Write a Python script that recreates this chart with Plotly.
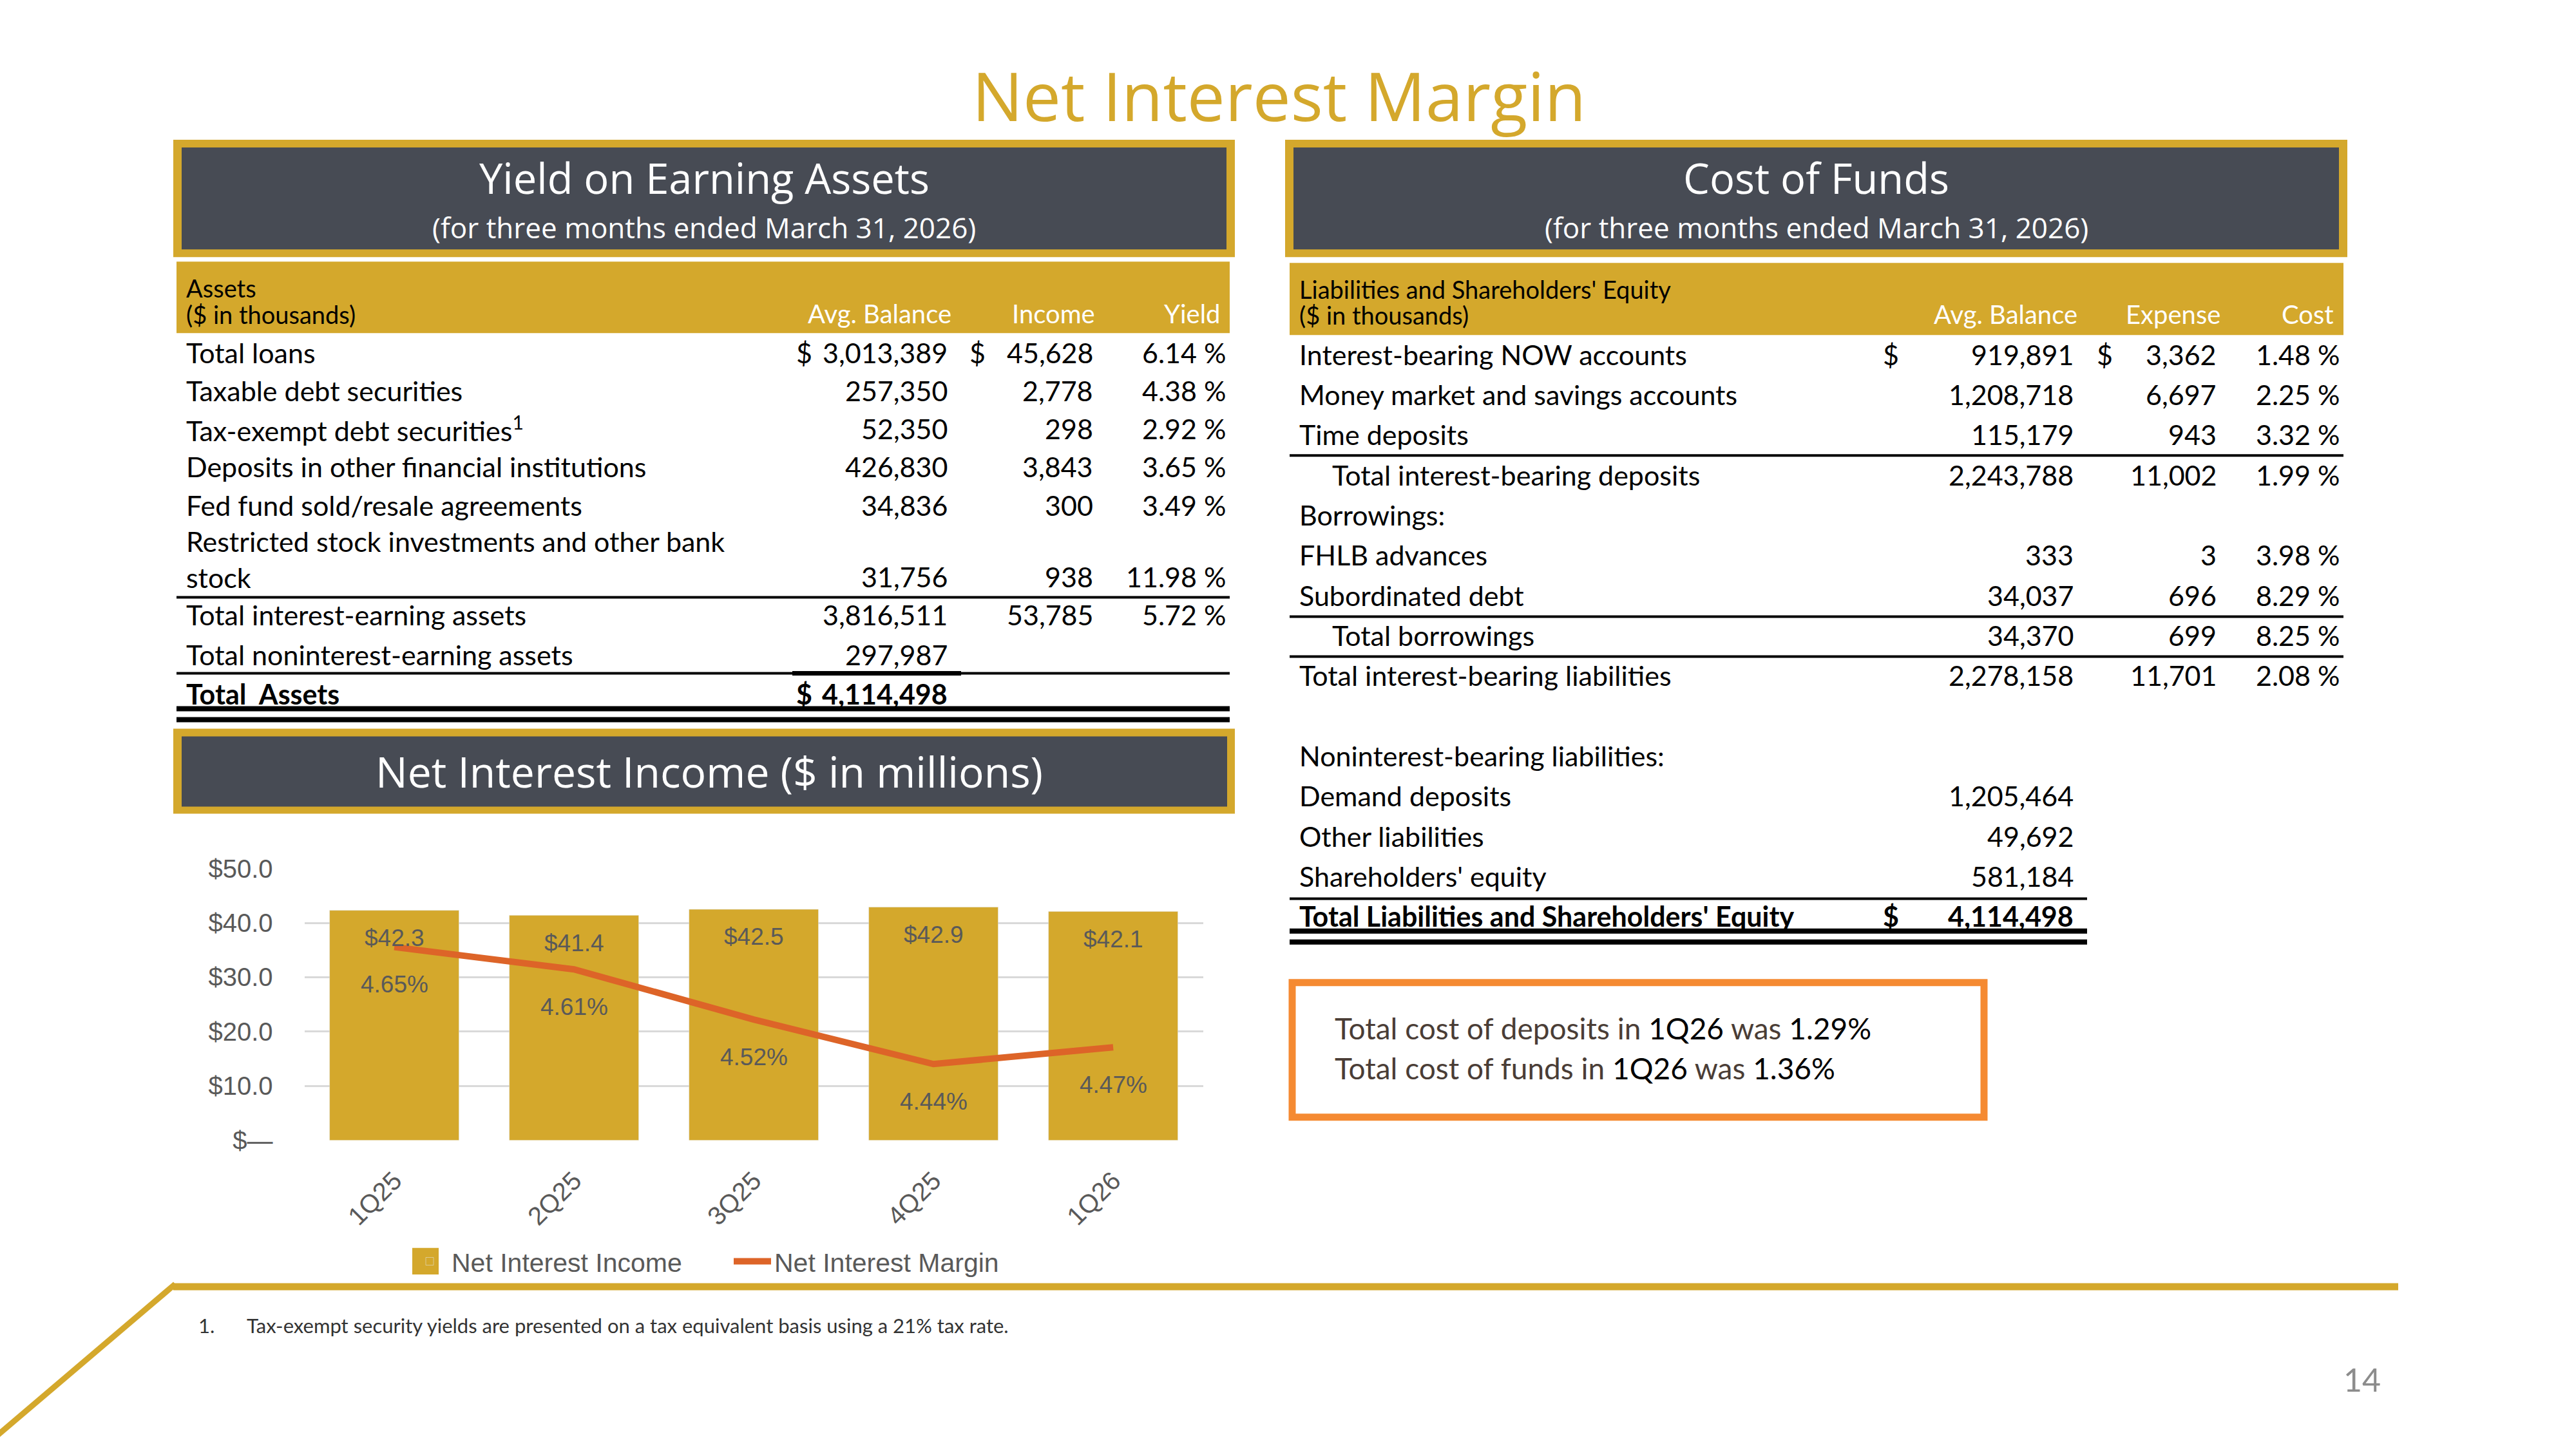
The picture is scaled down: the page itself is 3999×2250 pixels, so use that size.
import plotly.graph_objects as go

# ---- chart data ----
quarters = ["1Q25", "2Q25", "3Q25", "4Q25", "1Q26"]
net_interest_income = [42.3, 41.4, 42.5, 42.9, 42.1]
net_interest_margin = [4.65, 4.61, 4.52, 4.44, 4.47]
nii_tick_vals = [0, 10, 20, 30, 40, 50]
nii_tick_text = ["$—", "$10.0", "$20.0", "$30.0", "$40.0", "$50.0"]

# ---- yield on earning assets ----
asset_labels = ["Total loans", "Taxable debt securities", "Tax-exempt debt securities<sup>1</sup>",
                "Deposits in other financial institutions", "Fed fund sold/resale agreements",
                "Restricted stock investments and other bank<br>stock", "Total interest-earning assets",
                "Total noninterest-earning assets", "<b>Total  Assets</b>"]
asset_balance = [3013389, 257350, 52350, 426830, 34836, 31756, 3816511, 297987, 4114498]
asset_income = [45628, 2778, 298, 3843, 300, 938, 53785, None, None]
asset_yield = [6.14, 4.38, 2.92, 3.65, 3.49, 11.98, 5.72, None, None]
asset_dollar = [True, False, False, False, False, False, False, False, True]

# ---- cost of funds ----
liab_labels = ["Interest-bearing NOW accounts", "Money market and savings accounts", "Time deposits",
               "Total interest-bearing deposits", "Borrowings:", "FHLB advances", "Subordinated debt",
               "Total borrowings", "Total interest-bearing liabilities", "", "Noninterest-bearing liabilities:",
               "Demand deposits", "Other liabilities", "Shareholders' equity",
               "Total Liabilities and Shareholders' Equity"]
liab_balance = [919891, 1208718, 115179, 2243788, None, 333, 34037, 34370, 2278158, None, None,
                1205464, 49692, 581184, 4114498]
liab_expense = [3362, 6697, 943, 11002, None, 3, 696, 699, 11701, None, None, None, None, None, None]
liab_cost = [1.48, 2.25, 3.32, 1.99, None, 3.98, 8.29, 8.25, 2.08, None, None, None, None, None, None]
liab_indent = [False, False, False, True, False, False, False, True, False, False, False, False, False, False, False]
liab_dollar = [True] + [False] * 13 + [True]

W, H = 3999, 2250
GOLD = "#D4A82C"
DARK = "#474B54"
ORANGE = "#DD6428"
GRAY = "#595959"
TFONT = "Lato"
BODY = 43

# the photographed page comes out a little squeezed vertically, so slide positions to suit
Y_OFF, Y_SCALE = 25, 0.98


def px(x):
    return x / W


def py(y):
    return 1 - ((y - Y_OFF) / Y_SCALE) / H


shapes = []
annotations = []


def rect(x0, y0, x1, y1, color):
    shapes.append(dict(type="rect", xref="paper", yref="paper", x0=px(x0), x1=px(x1),
                       y0=py(y1), y1=py(y0), fillcolor=color, line_width=0, layer="below"))


def hline(x0, x1, y, width, color="black"):
    shapes.append(dict(type="line", xref="paper", yref="paper", x0=px(x0), x1=px(x1),
                       y0=py(y), y1=py(y), line=dict(color=color, width=width)))


def text(x, y, s, size, color="black", anchor="left", font=TFONT):
    annotations.append(dict(xref="paper", yref="paper", x=px(x), y=py(y), text=s, showarrow=False,
                            xanchor=anchor, yanchor="middle", align=anchor,
                            font=dict(family=font, size=size, color=color)))


# title
text(1985, 150, "Net Interest Margin", 105, GOLD, "center", "Open Sans")

# header boxes
for x0, x1, title in [(269, 1917, "Yield on Earning Assets"), (1995, 3644, "Cost of Funds")]:
    rect(x0, 220, x1, 402, GOLD)
    rect(x0 + 13, 232, x1 - 13, 390, DARK)
    text((x0 + x1) / 2, 279, title, 65, "white", "center", "Open Sans")
    text((x0 + x1) / 2, 356, "(for three months ended March 31, 2026)", 44, "white", "center", "Open Sans")

rect(269, 1134, 1917, 1266, GOLD)
rect(282, 1146, 1905, 1255, DARK)
text(1101, 1199, "Net Interest Income ($ in millions)", 66, "white", "center", "Open Sans")

# ---- left table ----
rect(274, 409, 1909, 520, GOLD)
text(287, 450, "Assets", 38)
text(287, 491, "($ in thousands)", 38)
text(1479, 490, "Avg. Balance", 40, "white", "right")
text(1702, 490, "Income", 40, "white", "right")
text(1897, 490, "Yield", 40, "white", "right")

asset_label_y = [550, 609, 668, 727, 787, 871, 957, 1019, 1080]
asset_value_y = [550, 609, 668, 727, 787, 898, 957, 1019, 1080]
for i, lab in enumerate(asset_labels):
    bold = i == len(asset_labels) - 1
    text(287, asset_label_y[i], lab, BODY)
    yv = asset_value_y[i]
    bal = f"{asset_balance[i]:,}"
    text(1473, yv, f"<b>{bal}</b>" if bold else bal, BODY, anchor="right")
    if asset_dollar[i]:
        text(1234, yv, "<b>$</b>" if bold else "$", BODY)
    if asset_income[i] is not None:
        text(1699, yv, f"{asset_income[i]:,}", BODY, anchor="right")
        if i == 0:
            text(1503, yv, "$", BODY)
    if asset_yield[i] is not None:
        text(1905, yv, f"{asset_yield[i]:.2f} %", BODY, anchor="right")

hline(274, 1909, 930, 4)
hline(274, 1909, 1048, 4)
hline(1230, 1492, 1048, 7)
hline(274, 1909, 1103, 8)
hline(274, 1909, 1120, 8)

# ---- right table ----
rect(2002, 411, 3638, 523, GOLD)
text(2015, 452, "Liabilities and Shareholders' Equity", 38)
text(2015, 492, "($ in thousands)", 38)
text(3227, 491, "Avg. Balance", 40, "white", "right")
text(3449, 491, "Expense", 40, "white", "right")
text(3625, 491, "Cost", 40, "white", "right")

for i, lab in enumerate(liab_labels):
    y = 553 + 62.3 * i
    bold = i == len(liab_labels) - 1
    if lab:
        s = f"<b><u>{lab}</u></b>" if bold else lab
        text(2066 if liab_indent[i] else 2015, y, s, BODY)
    if liab_balance[i] is not None:
        bal = f"{liab_balance[i]:,}"
        text(3221, y, f"<b><u>{bal}</u></b>" if bold else bal, BODY, anchor="right")
    if liab_dollar[i]:
        text(2921, y, "<b><u>$</u></b>" if bold else "$", BODY)
    if liab_expense[i] is not None:
        text(3443, y, f"{liab_expense[i]:,}", BODY, anchor="right")
        if i == 0:
            text(3253, y, "$", BODY)
    if liab_cost[i] is not None:
        text(3634, y, f"{liab_cost[i]:.2f} %", BODY, anchor="right")

hline(2002, 3638, 710, 4)
hline(2002, 3638, 960, 4)
hline(2002, 3638, 1022, 4)
hline(2002, 3240, 1398, 4)
hline(2002, 3240, 1448, 8)
hline(2002, 3240, 1465, 8)

# orange callout
shapes.append(dict(type="rect", xref="paper", yref="paper", x0=px(2006), x1=px(3080),
                   y0=py(1737), y1=py(1528), line=dict(color="#F58A32", width=11), fillcolor="rgba(0,0,0,0)"))
BROWN = "#4A3D36"
text(2070, 1599, f"<span style='color:{BROWN}'>Total cost of deposits in </span>1Q26"
     f"<span style='color:{BROWN}'> was </span>1.29%", 46)
text(2070, 1661, f"<span style='color:{BROWN}'>Total cost of funds in </span>1Q26"
     f"<span style='color:{BROWN}'> was </span>1.36%", 46)

# footer
hline(269, 3723, 2000, 11, GOLD)
shapes.append(dict(type="line", xref="paper", yref="paper", x0=px(272), y0=py(1996), x1=px(-3), y1=py(2230),
                   line=dict(color=GOLD, width=9)))
text(306, 2060, "1.", 31, "#333333")
text(381, 2060, "Tax-exempt security yields are presented on a tax equivalent basis using a 21% tax rate.", 31, "#333333")
text(3667, 2144, "14", 50, "#8C8C8C", "center")

# legend swatch for the bars drawn at the size the slide uses
rect(640, 1940, 681, 1981, GOLD)

# ---- chart ----
fig = go.Figure()
fig.add_trace(go.Bar(x=quarters, y=net_interest_income, name="Net Interest Income", marker_color=GOLD))
fig.add_trace(go.Scatter(x=quarters, y=net_interest_margin, name="Net Interest Margin", yaxis="y2",
                         mode="lines", line=dict(color=ORANGE, width=10)))

for q, v in zip(quarters, net_interest_income):
    annotations.append(dict(x=q, y=v, xref="x", yref="y", text=f"${v:.1f}", showarrow=False,
                            yanchor="middle", yshift=-43, font=dict(family="Liberation Sans", size=37, color=GRAY)))
for q, v in zip(quarters, net_interest_margin):
    annotations.append(dict(x=q, y=v, xref="x", yref="y2", text=f"{v:.2f}%", showarrow=False,
                            yanchor="middle", yshift=-58, font=dict(family="Liberation Sans", size=37, color=GRAY)))

fig.update_layout(
    width=W, height=H, autosize=False,
    margin=dict(l=0, r=0, t=0, b=0),
    paper_bgcolor="white", plot_bgcolor="white",
    bargap=0.28,
    font=dict(family="Liberation Sans", color=GRAY),
    xaxis=dict(domain=[px(472.6), px(1867.6)], anchor="y", tickangle=-45, showline=False, showgrid=False,
               tickfont=dict(size=40, color=GRAY), ticklabelstandoff=30),
    yaxis=dict(domain=[py(1773), py(1351)], range=[0, 50], tickvals=nii_tick_vals, ticktext=nii_tick_text,
               gridcolor="#D9D9D9", gridwidth=3, zeroline=False, showline=False,
               tickfont=dict(size=40, color=GRAY), ticklabelstandoff=48),
    yaxis2=dict(overlaying="y", range=[4.303, 4.791], visible=False),
    legend=dict(orientation="h", x=px(633), xanchor="left", y=py(1961), yanchor="middle",
                bgcolor="rgba(0,0,0,0)", font=dict(size=41, color=GRAY),
                itemwidth=58, entrywidth=428, entrywidthmode="pixels"),
    shapes=shapes,
    annotations=annotations,
)

# let the figure sit flush in the window (no default body margin / scrollbars)
fig.write_html("out.html", config={"displayModeBar": False},
               post_script="document.body.style.margin='0';"
               "document.body.style.overflow='hidden';document.documentElement.style.overflow='hidden';")
